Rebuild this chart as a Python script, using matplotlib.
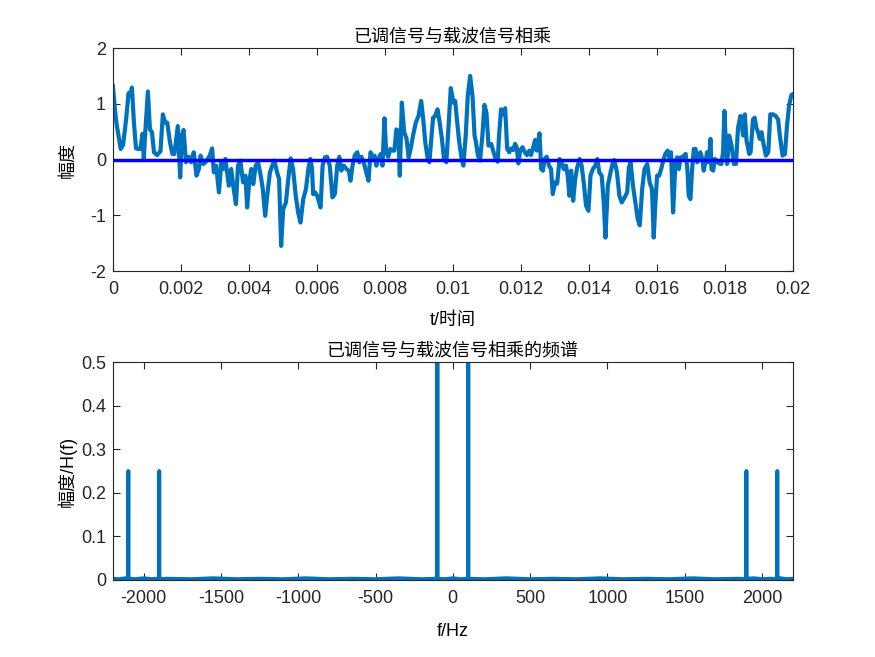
import matplotlib

matplotlib.use("Agg")
import matplotlib.pyplot as plt
import numpy as np
from matplotlib.ticker import FuncFormatter

plt.rcParams["font.family"] = ["Liberation Sans", "Noto Sans CJK SC", "DejaVu Sans"]
plt.rcParams["axes.unicode_minus"] = False

# product of modulated signal and carrier (t in ms)
t_ms = [
    0.00, 0.07, 0.11, 0.15, 0.23, 0.30, 0.39, 0.46, 0.50, 0.56, 0.62, 0.68, 0.75, 0.81,
    0.87, 0.91, 0.95, 1.03, 1.09, 1.15, 1.21, 1.30, 1.40, 1.47, 1.54, 1.60, 1.68, 1.75,
    1.81, 1.91, 1.98, 2.03, 2.08, 2.15, 2.23, 2.30,
    2.38, 2.46, 2.53, 2.58, 2.66, 2.72, 2.79, 2.85, 2.92, 2.97, 3.04, 3.12, 3.19, 3.25,
    3.31, 3.36, 3.41, 3.48, 3.54, 3.62, 3.68, 3.75, 3.83, 3.90, 3.95, 4.01, 4.07, 4.13,
    4.20, 4.27, 4.35, 4.41, 4.48, 4.54, 4.62, 4.69, 4.75, 4.83, 4.89, 4.95,
    5.01, 5.09, 5.16, 5.23, 5.30, 5.38, 5.45, 5.52, 5.60, 5.68, 5.75, 5.81, 5.86, 5.89,
    5.95, 6.01, 6.11, 6.17, 6.24, 6.30, 6.38, 6.46, 6.53, 6.60, 6.66, 6.72, 6.79, 6.87,
    6.94, 6.99, 7.05, 7.12, 7.19, 7.25, 7.31, 7.38, 7.44,
    7.52, 7.58, 7.64, 7.70, 7.75, 7.81, 7.88, 7.93, 7.99, 8.04, 8.10, 8.16, 8.23, 8.28,
    8.34, 8.40, 8.44, 8.50, 8.57, 8.64, 8.70, 8.76, 8.83, 8.91, 8.99, 9.07, 9.13, 9.19,
    9.26, 9.31, 9.36, 9.42, 9.48, 9.55, 9.60, 9.68, 9.74, 9.81, 9.87, 9.94,
    10.02, 10.07, 10.12, 10.19, 10.26, 10.31, 10.38, 10.44, 10.51, 10.58, 10.64, 10.68,
    10.74, 10.80, 10.87, 10.93, 10.99, 11.05, 11.13, 11.20, 11.26, 11.32, 11.36, 11.42,
    11.48, 11.54, 11.60, 11.66, 11.72, 11.78, 11.83, 11.88, 11.93, 11.98, 12.05, 12.11,
    12.18, 12.25, 12.30, 12.37, 12.42, 12.47,
    12.55, 12.60, 12.65, 12.70, 12.76, 12.83, 12.89, 12.94, 13.01, 13.07, 13.14, 13.21,
    13.26, 13.33, 13.38, 13.43, 13.48, 13.54, 13.60, 13.66, 13.73, 13.79, 13.85, 13.92,
    13.99, 14.05, 14.12, 14.19, 14.25, 14.31, 14.38, 14.44, 14.49, 14.56, 14.64, 14.71,
    14.75, 14.83, 14.90, 14.97,
    15.08, 15.13, 15.18, 15.23, 15.30, 15.37, 15.44, 15.50, 15.57, 15.64, 15.72, 15.79,
    15.86, 15.91, 15.96, 16.01, 16.07, 16.13, 16.19, 16.25, 16.32, 16.38, 16.42, 16.48,
    16.55, 16.60, 16.65, 16.70, 16.75, 16.80, 16.85, 16.90, 16.94, 16.99, 17.04, 17.09,
    17.14, 17.19, 17.24, 17.28, 17.34, 17.38, 17.43, 17.48, 17.53,
    17.58, 17.61, 17.66, 17.71, 17.76, 17.83, 17.90, 17.95, 17.99, 18.03, 18.07, 18.13,
    18.20, 18.27, 18.33, 18.39, 18.46, 18.54, 18.59, 18.64, 18.72, 18.76, 18.83, 18.88,
    18.93, 18.98, 19.03, 19.08, 19.13, 19.21, 19.28, 19.34, 19.42, 19.50, 19.57, 19.62,
    19.70, 19.77, 19.83, 19.89, 19.96, 20.00,
]
signal = [
    1.32, 0.84, 0.63, 0.49, 0.19, 0.26, 0.72, 1.19, 1.14, 1.29, 0.66, 0.20, 0.19, 0.19,
    0.46, 0.01, 0.46, 1.22, 0.54, 0.49, 0.13, 0.08, 0.15, 0.81, 0.66, 0.66, 0.31, 0.10,
    0.10, 0.60, -0.32, 0.43, 0.53, -0.05, 0.05, -0.05,
    0.13, -0.29, -0.17, 0.07, -0.08, -0.05, 0.01, 0.07, 0.20, -0.23, -0.11, -0.59, -0.05, -0.17,
    0.01, -0.23, -0.47, -0.17, -0.47, -0.80, -0.11, -0.02, -0.41, -0.29, -0.86, -0.41, -0.17, -0.44,
    -0.11, -0.05, -0.29, -0.53, -1.01, -0.65, -0.23, -0.11, -0.02, -0.23, -0.35, -1.55,
    -0.89, -0.77, -0.35, 0.02, -0.17, -0.65, -0.95, -1.13, -0.71, -0.53, -0.17, 0.01, -0.17, -0.62,
    -0.59, -0.65, -0.86, -0.11, 0.04, 0.05, -0.11, -0.68, -0.62, -0.11, 0.05, -0.20, -0.11, -0.17,
    -0.20, -0.38, -0.11, 0.08, 0.13, -0.05, 0.05, -0.05, -0.20,
    -0.38, 0.13, 0.04, 0.07, -0.11, 0.01, 0.10, -0.11, 0.74, 0.13, 0.05, 0.19, 0.16, 0.16,
    0.54, 0.51, -0.29, 1.02, 0.49, 0.37, 0.04, 0.19, 0.43, 0.66, 0.78, 1.05, 0.72, 0.31,
    0.02, -0.05, 0.31, 0.75, 0.78, 0.90, 0.72, 0.37, 0.01, -0.05, 0.54, 1.28,
    1.02, 1.05, 0.72, 0.31, 0.01, -0.11, 0.43, 1.14, 1.50, 1.14, 0.43, 0.31,
    0.07, -0.02, 0.43, 0.98, 0.84, 0.25, 0.28, 0.13, 0.01, -0.04, 0.43, 0.90,
    0.81, 0.92, 0.19, 0.13, 0.20, 0.17, 0.28, 0.22, -0.07, 0.16, 0.22, 0.14,
    0.08, 0.16, 0.08, 0.23, 0.35, 0.16,
    0.47, -0.17, -0.20, 0.01, 0.05, -0.11, -0.17, -0.62, -0.41, -0.43, 0.01, -0.07,
    -0.17, -0.11, -0.29, -0.65, -0.20, -0.74, -0.35, -0.14, 0.01, -0.11, -0.41, -0.83,
    -0.92, -0.29, -0.17, -0.11, 0.01, -0.23, -0.29, -0.77, -1.40, -0.47, -0.23, -0.05,
    -0.01, -0.23, -0.65, -0.77,
    -0.65, -0.59, -0.14, -0.05, -0.47, -0.77, -1.07, -1.18, -0.53, -0.17, -0.08, -0.41,
    -0.53, -1.40, -0.77, -0.29, -0.29, -0.17, -0.02, 0.10, 0.16, 0.01, 0.13, -0.95,
    -0.05, 0.04, -0.17, 0.04, 0.01, 0.07, 0.10, -0.17, -0.65, -0.71, -0.17, 0.19,
    0.19, -0.05, 0.04, 0.13, 0.01, -0.20, -0.05, 0.13, -0.05,
    0.37, -0.17, -0.20, 0.01, -0.02, -0.07, -0.08, 0.13, 0.87, 0.31, -0.08, 0.43,
    0.25, -0.08, -0.08, 0.57, 0.78, 0.43, 0.81, 0.34, 0.10, 0.13, 0.72, 0.75,
    0.57, 0.49, 0.37, 0.49, 0.31, 0.07, 0.13, 0.81, 0.81, 0.78, 0.72, 0.43,
    0.07, 0.10, 0.60, 0.96, 1.16, 1.17,
]

# magnitude spectrum of the product
spec_f = [
    -2200, -2160, -2120, -2101, -2100, -2099, -2060, -2000, -1950, -1901, -1900, -1899,
    -1850, -1700, -1550, -1400, -1250, -1100, -950, -800, -650, -500, -350, -200,
    -101, -100, -99, -50, 0, 50, 99, 100, 101,
    200, 350, 500, 650, 800, 950, 1100, 1250, 1400, 1550, 1700, 1850,
    1899, 1900, 1901, 1950, 2000, 2060, 2099, 2100, 2101, 2120, 2160, 2200,
]
spec_a = [
    0.003, 0.002, 0.004, 0.002, 0.25, 0.003, 0.002, 0.004, 0.002, 0.003, 0.25, 0.002,
    0.003, 0.002, 0.004, 0.002, 0.003, 0.002, 0.004, 0.002, 0.003, 0.002, 0.004, 0.002,
    0.003, 0.5, 0.003, 0.002, 0.004, 0.002, 0.003, 0.5, 0.003,
    0.002, 0.004, 0.002, 0.003, 0.002, 0.004, 0.002, 0.003, 0.002, 0.004, 0.002, 0.003,
    0.002, 0.25, 0.003, 0.004, 0.002, 0.003, 0.002, 0.25, 0.002, 0.004, 0.002, 0.003,
]

ML_BLUE = "#0072BD"
AX_COLOR = "#262626"
TICK_SIZE = 13
LABEL_SIZE = 13
CJK = ["Noto Sans CJK SC", "DejaVu Sans"]


def style_axes(ax):
    for sp in ax.spines.values():
        sp.set_color(AX_COLOR)
        sp.set_linewidth(0.8)
    ax.tick_params(direction="in", top=True, right=True, length=5, width=0.8,
                   colors=AX_COLOR, labelsize=TICK_SIZE)
    ax.tick_params(axis="x", pad=7)
    ax.tick_params(axis="y", pad=5)


fig = plt.figure(figsize=(8.75, 6.57), dpi=100)
ax1 = fig.add_axes([0.129, 0.5875, 0.777, 0.3394])
ax2 = fig.add_axes([0.129, 0.1172, 0.777, 0.3318])

t = np.array(t_ms) / 1000.0
ax1.plot(t, signal, color=ML_BLUE, linewidth=3)
ax1.plot([t[0], t[-1]], [0, 0], color="#0000FF", linewidth=2.5)
ax1.set_xlim(0, 0.02)
ax1.set_ylim(-2, 2)
ax1.set_xticks(np.arange(0, 0.0201, 0.002))
ax1.set_yticks(np.arange(-2, 3, 1))
ax1.xaxis.set_major_formatter(FuncFormatter(lambda v, p: f"{v:g}"))
ax1.set_title("已调信号与载波信号相乘", family=CJK, fontsize=13, pad=5, color="black")
ax1.set_xlabel("t/时间", fontsize=LABEL_SIZE)
ax1.set_ylabel("幅度", family=CJK, fontsize=LABEL_SIZE)
ax1.xaxis.set_label_coords(0.5, -0.182)
ax1.yaxis.set_label_coords(-0.053, 0.5)
style_axes(ax1)

ax2.plot(spec_f, spec_a, color=ML_BLUE, linewidth=2.8)
ax2.set_xlim(-2200, 2200)
ax2.set_ylim(0, 0.5)
ax2.set_xticks(np.arange(-2000, 2001, 500))
ax2.set_yticks(np.arange(0, 0.51, 0.1))
ax2.yaxis.set_major_formatter(FuncFormatter(lambda v, p: f"{v:g}"))
ax2.set_title("已调信号与载波信号相乘的频谱", family=CJK, fontsize=13, pad=5, color="black")
ax2.set_xlabel("f/Hz", fontsize=LABEL_SIZE)
ax2.set_ylabel("幅度/H(f)", fontsize=LABEL_SIZE)
ax2.xaxis.set_label_coords(0.5, -0.196)
ax2.yaxis.set_label_coords(-0.053, 0.5)
style_axes(ax2)

fig.savefig("out.png", dpi=100)
plt.close(fig)
